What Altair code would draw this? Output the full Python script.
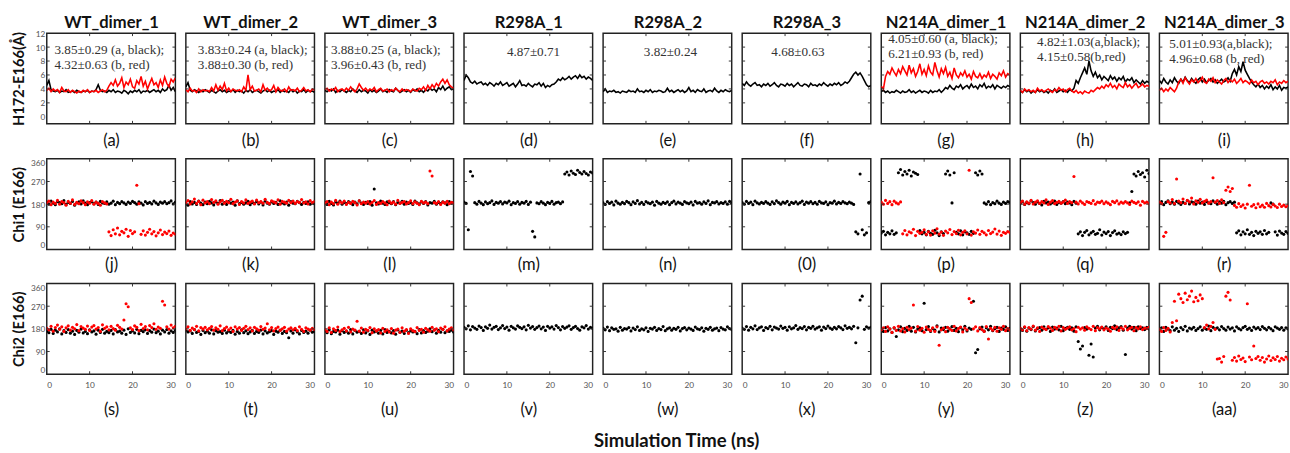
import altair as alt
import pandas as pd

STEP_NS = 0.5
X_DOMAIN = [0, 30]
X_TICKS = [0, 10, 20, 30]
TITLES = ["WT_dimer_1", "WT_dimer_2", "WT_dimer_3", "R298A_1", "R298A_2", "R298A_3",
          "N214A_dimer_1", "N214A_dimer_2", "N214A_dimer_3"]
LETTERS = [["(a)", "(b)", "(c)", "(d)", "(e)", "(f)", "(g)", "(h)", "(i)"],
           ["(j)", "(k)", "(l)", "(m)", "(n)", "(0)", "(p)", "(q)", "(r)"],
           ["(s)", "(t)", "(u)", "(v)", "(w)", "(x)", "(y)", "(z)", "(aa)"]]
ROW_TITLES = ["H172-E166(Å)", "Chi1 (E166)", "Chi2 (E166)"]
Y_DOMAINS = [[-1, 12], [0, 360], [0, 360]]
Y_TICKS = [[0, 2, 4, 6, 8, 10, 12], [0, 90, 180, 270, 360], [0, 90, 180, 270, 360]]

ANNOT_TEXT = [["3.85±0.29 (a, black);", "4.32±0.63 (b, red)"],
              ["3.83±0.24 (a, black);", "3.88±0.30 (b, red)"],
              ["3.88±0.25 (a, black);", "3.96±0.43 (b, red)"],
              ["4.87±0.71"], ["3.82±0.24"], ["4.68±0.63"],
              ["4.05±0.60 (a, black);", "6.21±0.93 (b, red)"],
              ["4.82±1.03(a,black);", "4.15±0.58(b,red)"],
              ["5.01±0.93(a,black);", "4.96±0.68 (b, red)"]]
ANNOT_T = [1.8, 2.8, 1.4, 10.0, 9.5, 6.8, 1.6, 3.9, 2.3]
ANNOT_V = [[9.55, 7.45], [9.55, 7.45], [9.55, 7.45], [9.3], [9.3], [9.3],
           [11.1, 9.0], [10.7, 8.6], [10.4, 8.3]]

COLORS = {"black": "#000000", "red": "#ff0000"}

# ---------------- H172-E166 distance (Å), sampled every 0.5 ns ----------------
dist_a_blk = [4.5,5.2,3.9,3.7,3.6,3.8,3.5,3.7,3.6,3.9,
              3.5,3.6,3.7,3.5,3.8,3.6,3.5,3.7,3.6,3.8,
              3.5,3.7,3.6,3.9,4.6,3.8,3.6,3.7,3.5,3.8,
              3.6,3.9,3.5,3.7,3.6,3.4,3.8,3.6,3.3,3.7,
              3.5,3.8,3.6,3.9,3.4,3.7,3.6,3.8,3.5,3.7,
              3.9,3.6,3.8,3.5,4.0,3.7,3.9,4.5,3.8,4.2,
              3.6]
dist_a_red = [3.8,4.1,3.6,4.0,3.7,3.9,3.5,4.2,3.7,3.6,
              3.9,3.5,3.8,3.6,3.4,3.7,3.5,3.8,3.6,3.9,
              3.5,3.7,3.6,3.8,3.5,3.7,3.9,3.6,3.8,4.4,
              4.9,4.5,5.3,4.4,4.8,5.6,4.2,5.0,4.6,5.4,
              4.3,4.1,5.2,4.7,5.8,4.4,5.1,4.0,4.8,5.5,
              4.6,4.9,4.2,5.3,4.5,5.7,4.8,4.3,5.4,5.0,
              5.6]
dist_b_blk = [4.3,4.9,3.8,3.6,3.9,3.7,3.5,3.8,3.6,3.9,
              3.7,3.5,3.8,3.6,3.4,3.7,3.9,3.6,3.8,3.5,
              3.7,3.6,3.9,3.5,3.8,3.6,3.7,3.4,3.8,3.6,
              3.9,3.5,3.7,3.8,3.6,3.4,3.7,3.9,3.6,3.8,
              3.5,3.7,3.6,3.9,3.5,3.8,3.6,3.7,3.5,3.9,
              3.6,3.8,3.4,3.7,3.6,3.9,3.5,3.8,3.6,3.7,
              3.5]
dist_b_red = [3.9,3.6,4.1,3.7,3.8,3.5,4.0,3.6,3.9,3.7,
              3.8,3.6,4.2,3.7,4.6,3.8,4.4,3.9,4.8,3.7,
              4.1,3.6,4.0,3.8,3.7,3.9,3.6,4.3,3.8,6.0,
              3.9,4.4,3.7,3.8,4.0,3.6,4.6,3.8,4.1,3.7,
              3.9,4.5,3.6,4.2,3.8,3.7,4.0,3.6,4.3,3.8,
              3.9,3.7,4.1,3.6,3.8,4.2,3.7,3.9,3.6,4.0,
              3.8]
dist_c_blk = [3.8,3.6,3.9,3.7,4.0,3.5,3.8,3.6,3.9,3.7,
              3.5,3.8,3.6,4.0,3.7,3.5,3.9,3.6,3.8,3.7,
              3.4,3.9,3.6,3.8,3.5,3.7,4.0,3.6,3.8,3.5,
              3.9,3.7,3.6,4.1,3.8,3.5,3.7,3.9,3.6,3.8,
              3.5,3.9,3.7,4.0,3.6,3.8,3.5,3.9,3.7,4.1,
              3.8,4.0,3.6,4.2,3.9,4.4,3.8,4.1,4.3,3.9,
              4.0]
dist_c_red = [3.9,4.1,3.7,4.0,3.8,4.2,3.6,3.9,4.0,3.7,
              4.1,3.8,4.3,3.9,3.6,4.0,4.7,4.2,3.8,4.1,
              3.7,4.0,3.8,4.2,3.6,3.9,4.1,3.7,3.8,4.0,
              3.6,3.9,3.7,4.1,3.8,3.6,4.0,3.7,3.9,3.8,
              3.6,4.0,3.8,3.7,4.1,3.9,4.3,3.8,4.5,4.0,
              4.6,4.2,4.8,4.4,5.0,5.4,4.8,5.3,4.6,4.3,
              4.1]
dist_d_blk = [5.2,6.0,5.6,5.0,4.8,5.1,4.7,4.9,5.0,4.6,
              4.8,4.5,4.9,4.7,4.4,4.8,4.6,5.0,4.5,4.7,
              4.9,4.4,4.6,4.8,4.3,4.7,5.2,4.5,4.6,4.4,
              4.8,4.5,4.3,4.7,4.6,4.9,4.4,4.8,4.2,4.5,
              4.3,4.6,4.7,5.0,5.4,5.2,5.6,5.3,5.5,5.8,
              5.4,5.7,5.9,5.5,6.0,5.6,5.8,5.4,5.7,5.5,
              5.2]
dist_e_blk = [3.6,4.0,3.5,3.7,3.6,3.8,3.5,3.6,3.4,3.7,
              3.6,3.5,3.8,3.6,3.7,3.5,4.0,3.6,3.7,3.5,
              3.8,3.6,3.9,3.5,3.7,3.6,3.8,3.7,3.5,3.6,
              4.1,3.6,3.8,3.5,3.7,3.9,3.6,3.8,3.5,3.7,
              4.2,3.6,3.8,3.5,3.9,3.7,3.6,4.0,3.5,3.7,
              3.8,3.6,4.1,3.7,3.5,3.8,3.6,3.9,3.7,3.6,
              3.8]
dist_f_blk = [4.8,4.5,5.0,4.6,4.4,4.7,4.9,4.5,4.6,4.3,
              4.7,4.5,4.8,4.4,4.6,4.9,4.5,4.3,4.7,4.6,
              4.4,4.8,4.5,4.7,4.3,4.6,4.9,4.5,4.4,4.7,
              4.6,4.3,4.8,4.5,4.6,4.4,4.7,4.5,4.9,4.6,
              4.4,4.7,4.5,4.8,4.6,4.9,4.5,4.7,5.0,4.8,
              5.1,5.6,6.1,6.4,6.0,6.3,5.8,5.2,4.6,4.3,
              4.5]
dist_g_blk = [3.6,3.8,3.5,3.7,3.4,3.6,3.5,3.8,3.6,3.4,
              3.7,3.5,3.6,3.9,3.5,3.7,3.4,3.6,3.8,3.5,
              3.7,3.6,3.4,3.8,3.5,3.7,3.6,3.9,3.5,3.8,
              4.2,4.0,4.5,4.1,3.9,4.4,4.2,4.6,4.0,4.3,
              4.5,4.1,4.7,4.2,4.4,4.0,4.6,4.3,4.8,4.1,
              4.4,4.2,4.6,4.0,4.5,4.3,4.1,4.4,4.2,4.5,
              4.3]
dist_g_red = [4.4,4.0,5.8,6.5,6.1,7.0,6.4,5.9,6.8,6.2,
              7.2,6.6,6.0,7.4,6.3,6.9,5.8,6.5,7.6,6.1,
              6.8,5.9,7.3,6.4,6.0,7.8,6.6,5.7,6.9,6.2,
              7.1,5.8,6.4,5.5,7.0,6.0,5.6,6.3,5.9,6.6,
              5.7,6.1,5.4,6.5,5.8,5.6,6.2,5.5,6.0,5.7,
              6.4,5.5,6.1,5.8,5.4,6.3,5.9,6.6,5.7,6.2,
              6.0]
dist_h_blk = [3.7,3.5,3.9,3.6,3.8,3.4,3.7,3.5,3.9,3.6,
              3.8,3.5,3.7,3.4,3.8,3.6,4.0,3.5,3.7,3.9,
              3.6,3.8,3.5,3.9,3.7,4.1,5.2,4.8,5.6,6.3,
              7.0,6.1,8.0,6.6,5.8,6.4,5.6,6.0,5.3,5.8,
              5.5,5.2,5.9,5.4,5.7,5.1,5.6,5.3,5.8,5.0,
              5.4,5.2,5.6,4.9,5.3,5.0,4.7,5.2,4.8,5.1,
              4.9]
dist_h_red = [3.8,3.5,4.0,3.7,3.9,3.6,3.8,3.5,4.1,3.7,
              3.9,3.6,3.8,4.0,3.7,3.5,3.9,3.7,4.2,3.8,
              4.0,3.6,3.9,4.1,3.7,3.5,3.8,3.4,3.6,3.3,
              3.7,3.5,3.4,3.8,3.6,3.9,4.2,4.0,4.4,4.1,
              4.6,4.3,4.8,4.2,4.5,4.0,4.7,4.4,4.2,4.9,
              4.3,4.6,4.1,4.5,4.8,4.2,4.4,4.7,4.3,4.5,
              4.4]
dist_i_blk = [5.2,4.8,5.5,5.0,4.7,5.3,4.9,5.6,5.1,4.8,
              5.4,5.0,5.7,5.2,4.9,5.5,5.1,4.8,5.3,5.6,
              5.0,5.4,4.9,5.2,5.5,5.0,5.3,4.8,5.1,5.4,
              5.0,5.2,5.6,5.1,6.2,6.8,6.0,7.2,6.5,7.9,
              6.7,6.1,5.5,5.0,4.6,4.3,4.7,4.2,4.5,4.0,
              4.4,4.1,4.6,3.9,4.3,4.0,4.5,3.8,4.2,4.1,
              4.3]
dist_i_red = [3.8,4.1,3.6,4.0,3.7,4.2,3.9,3.6,4.1,5.0,
              5.4,4.8,5.6,5.1,4.7,5.3,5.0,5.5,4.9,5.2,
              5.7,5.0,4.8,5.4,5.1,5.6,4.9,5.3,5.0,4.7,
              5.2,5.5,4.9,5.3,5.0,5.4,4.8,5.1,5.5,4.9,
              5.2,5.0,4.7,5.3,4.9,5.1,4.6,5.0,5.2,4.8,
              5.0,4.7,5.1,4.9,5.3,4.6,5.0,4.8,5.2,4.9,
              5.1]

# ---------------- Chi1 (E166), degrees ----------------
chi1_j_blk = [188,180,192,184,178,190,186,182,194,179,
              187,183,191,176,185,189,181,193,184,178,
              186,190,182,188,179,191,185,183,189,180,
              184,192,178,187,182,190,185,179,188,183,
              191,186,180,189,184,177,190,183,187,181,
              192,185,179,188,184,190,182,186,193,181,
              188]
chi1_j_red = [185,192,178,188,183,195,180,190,186,176,
              191,184,197,179,187,182,193,186,178,189,
              184,194,180,188,183,176,190,185,181,70,
              55,78,62,85,58,72,66,80,52,75,
              63,70,255,182,60,74,57,68,80,62,
              71,54,66,77,59,69,63,73,56,65,
              61]
chi1_k_blk = [183,176,190,181,187,179,192,184,178,188,
              182,191,185,177,189,183,194,180,186,179,
              190,184,188,176,193,182,187,180,185,191,
              178,186,183,190,181,188,177,192,184,180,
              189,183,187,179,193,185,181,188,176,190,
              184,182,191,186,179,187,183,189,180,185,
              182]
chi1_k_red = [186,194,181,189,200,183,191,178,196,185,
              190,182,198,187,193,180,189,195,184,191,
              186,199,182,188,193,179,190,185,197,183,
              188,192,181,196,186,190,184,199,187,182,
              193,189,185,197,180,191,188,184,195,186,
              192,183,190,187,198,185,189,181,194,186,
              190]
chi1_l_blk = [186,179,191,183,177,189,184,192,180,187,
              182,190,185,178,188,181,193,184,179,187,
              183,190,176,240,185,181,192,184,179,189,
              186,182,190,178,187,184,191,180,188,183,
              186,179,192,185,181,189,183,190,177,186,
              184,191,180,187,182,189,185,178,190,184,
              187]
chi1_l_red = [184,190,178,188,182,195,180,189,185,192,
              179,187,183,191,186,177,193,182,188,184,
              190,181,187,194,179,186,183,190,185,178,
              192,184,188,180,195,183,187,190,181,186,
              193,182,189,184,178,191,185,188,182,312,
              292,186,183,190,179,188,184,191,182,187,
              185]
chi1_m_blk = [188,183,78,310,292,186,180,191,184,178,
              189,182,186,193,179,187,184,190,181,188,
              185,192,178,186,183,190,180,187,184,191,
              179,188,72,50,185,182,190,184,178,187,
              183,191,180,186,188,182,189,300,308,296,
              312,303,298,315,306,300,310,302,296,308,
              304]
chi1_n_blk = [185,179,190,183,188,177,192,184,180,187,
              182,191,186,178,189,183,194,181,187,179,
              190,185,182,188,176,191,184,180,187,183,
              189,178,186,192,181,188,184,179,190,185,
              182,188,177,191,184,186,180,189,183,193,
              178,187,185,190,181,186,183,189,180,191,
              184]
chi1_o_blk = [186,180,191,183,188,178,192,185,181,187,
              183,190,184,179,189,182,193,186,180,188,
              184,191,178,187,183,189,181,186,192,179,
              188,184,190,182,187,180,191,185,183,189,
              178,186,184,192,181,187,183,190,185,182,
              188,184,179,70,62,300,78,58,66,186,
              190]
chi1_p_blk = [65,72,58,68,62,74,60,66,305,318,
              296,310,300,315,292,308,303,298,75,62,
              68,58,72,64,60,76,66,55,70,63,
              300,312,296,185,305,68,62,74,58,70,
              66,60,72,64,305,296,312,300,185,180,
              190,178,186,182,192,184,179,188,183,190,
              186]
chi1_p_red = [188,180,195,183,190,178,192,185,181,189,
              62,75,58,70,66,80,55,72,64,68,
              78,60,70,57,74,65,82,61,69,56,
              73,66,79,59,71,63,76,58,68,74,
              62,315,57,70,65,77,60,72,66,58,
              75,63,69,81,61,73,56,68,64,71,
              67]
chi1_q_blk = [184,190,179,187,182,193,186,180,189,183,
              177,191,185,188,181,186,192,179,187,184,
              190,182,188,185,178,191,184,62,70,55,
              68,75,58,66,72,60,64,78,57,69,
              63,71,55,67,74,61,65,59,70,63,
              68,185,230,300,292,310,298,305,288,315,
              302]
chi1_q_red = [186,192,180,189,184,195,181,188,193,183,
              190,185,197,179,188,194,182,187,191,184,
              189,196,183,190,186,290,188,181,192,185,
              179,190,187,183,194,180,188,186,192,182,
              189,184,178,191,186,193,181,188,184,190,
              185,179,192,187,183,189,176,191,185,188,
              182]
chi1_r_blk = [184,190,178,187,193,182,188,180,191,185,
              179,187,183,194,181,189,186,180,192,184,
              188,179,190,185,182,193,187,180,189,184,
              191,178,186,190,183,188,66,74,58,70,
              62,78,60,68,55,72,64,70,60,75,
              62,68,185,180,70,57,73,65,60,71,
              64]
chi1_r_red = [188,182,52,68,190,185,198,183,280,192,
              186,200,183,195,189,204,181,193,187,199,
              185,191,196,184,190,285,188,194,183,197,
              186,235,248,230,242,175,168,182,171,177,
              165,180,255,172,178,166,181,170,176,168,
              183,174,169,179,173,167,180,171,176,170,
              175]

# ---------------- Chi2 (E166), degrees ----------------
chi2_s_blk = [170,165,178,162,175,168,180,160,173,166,
              177,163,171,158,174,167,179,164,170,161,
              176,168,172,159,175,166,178,163,170,165,
              174,160,177,168,171,163,175,158,180,166,
              172,164,178,161,174,169,176,162,173,167,
              179,165,171,160,175,168,177,163,172,166,
              174]
chi2_s_red = [182,176,190,171,185,195,178,188,170,184,
              192,175,186,180,197,173,189,183,178,191,
              174,187,193,179,185,170,196,182,188,176,
              190,181,175,194,186,179,215,280,268,184,
              177,192,186,173,198,181,189,176,193,185,
              200,178,187,182,290,275,188,179,195,184,
              190]
chi2_t_blk = [175,168,172,162,177,166,170,158,174,165,
              171,163,176,160,173,167,169,162,175,164,
              171,166,174,159,170,163,176,165,172,161,
              168,174,162,170,166,175,160,172,164,169,
              173,158,171,167,175,162,170,165,145,172,
              163,176,168,160,174,166,171,163,175,167,
              170]
chi2_t_red = [180,188,174,183,177,190,172,185,179,186,
              176,182,189,175,184,178,192,173,181,187,
              176,183,170,188,179,185,174,182,190,177,
              184,172,186,180,175,189,178,183,200,176,
              185,172,181,187,174,180,186,171,179,184,
              176,182,173,188,178,170,184,179,175,182,
              177]
chi2_u_blk = [172,165,176,161,170,168,175,159,173,166,
              171,163,177,160,174,167,170,162,176,164,
              172,158,175,168,171,163,174,160,177,166,
              170,164,173,159,176,167,171,162,175,165,
              172,168,170,161,177,164,173,166,171,180,
              169,176,163,174,167,178,165,172,170,175,
              168]
chi2_u_red = [178,170,184,166,180,174,187,169,176,182,
              172,186,168,179,175,210,171,183,167,178,
              174,185,165,180,172,177,164,182,170,176,
              168,181,163,175,179,166,184,171,177,162,
              180,173,169,185,174,178,167,182,176,171,
              186,175,180,169,183,177,188,172,179,184,
              176]
chi2_v_blk = [186,180,192,176,189,183,178,191,185,174,
              188,182,195,179,186,190,177,184,193,181,
              187,175,190,184,179,192,186,181,188,176,
              194,183,189,178,185,191,180,187,174,190,
              183,188,179,193,185,176,189,182,187,192,
              178,185,190,181,175,188,184,193,179,186,
              182]
chi2_w_blk = [182,176,187,173,184,178,180,171,186,175,
              181,179,185,172,183,177,188,174,180,176,
              184,170,182,179,186,174,181,177,189,173,
              180,184,175,182,178,186,172,181,185,176,
              183,179,174,187,180,177,184,171,182,178,
              186,175,180,183,173,185,179,176,188,181,
              177]
chi2_x_blk = [183,178,189,175,186,180,192,177,184,188,
              174,185,181,190,176,187,183,179,191,182,
              186,175,188,180,184,193,178,185,181,189,
              176,186,182,190,179,184,188,175,187,181,
              191,183,178,186,180,189,184,177,192,182,
              186,180,190,125,184,295,310,178,188,183,
              186]
chi2_y_blk = [178,170,185,172,180,166,183,150,176,188,
              169,182,174,190,171,186,168,179,184,173,
              282,177,189,170,181,175,192,168,183,177,
              186,171,180,189,174,182,169,185,176,190,
              172,183,178,290,85,98,180,187,171,184,
              176,190,173,181,186,170,183,178,188,174,
              182]
chi2_y_red = [176,184,170,188,179,166,185,174,190,172,
              181,168,186,177,183,275,171,189,175,182,
              167,187,178,173,184,170,188,115,176,183,
              169,186,179,174,190,172,181,187,168,183,
              176,300,285,180,188,172,185,177,170,189,
              140,182,175,186,171,184,178,190,173,181,
              176]
chi2_z_blk = [180,174,186,171,183,177,189,172,181,185,
              175,188,178,184,170,187,179,183,176,190,
              173,182,186,178,184,171,188,130,100,112,
              185,179,75,120,68,183,190,176,185,180,
              188,174,186,181,192,177,184,189,175,78,
              183,190,179,186,173,188,181,184,177,186,
              180]
chi2_z_red = [182,176,188,173,185,179,191,175,184,170,
              187,181,177,189,183,174,186,180,190,172,
              185,178,183,188,176,181,169,186,179,184,
              175,188,182,177,190,173,185,180,187,176,
              183,179,171,186,181,188,174,184,179,190,
              176,182,186,173,185,180,188,177,183,181,
              186]
chi2_aa_blk = [176,184,170,186,179,173,188,175,182,170,
               185,177,190,172,183,179,186,174,181,188,
               175,183,178,191,173,186,180,184,176,189,
               181,175,187,179,184,172,188,181,176,185,
               190,178,183,174,187,180,185,177,189,182,
               176,186,180,173,188,183,178,185,175,184,
               180]
chi2_aa_red = [178,170,185,174,182,168,205,290,212,318,
               300,285,322,296,310,330,288,305,292,315,
               300,185,195,180,190,205,178,60,62,48,
               70,310,325,295,55,66,52,72,58,64,
               50,280,68,57,112,62,70,55,66,48,
               60,72,54,65,58,70,52,63,57,68,
               60]

SERIES = [
    [[("black", dist_a_blk), ("red", dist_a_red)], [("black", dist_b_blk), ("red", dist_b_red)],
     [("black", dist_c_blk), ("red", dist_c_red)], [("black", dist_d_blk)], [("black", dist_e_blk)],
     [("black", dist_f_blk)], [("black", dist_g_blk), ("red", dist_g_red)],
     [("black", dist_h_blk), ("red", dist_h_red)], [("black", dist_i_blk), ("red", dist_i_red)]],
    [[("black", chi1_j_blk), ("red", chi1_j_red)], [("black", chi1_k_blk), ("red", chi1_k_red)],
     [("black", chi1_l_blk), ("red", chi1_l_red)], [("black", chi1_m_blk)], [("black", chi1_n_blk)],
     [("black", chi1_o_blk)], [("black", chi1_p_blk), ("red", chi1_p_red)],
     [("black", chi1_q_blk), ("red", chi1_q_red)], [("black", chi1_r_blk), ("red", chi1_r_red)]],
    [[("black", chi2_s_blk), ("red", chi2_s_red)], [("black", chi2_t_blk), ("red", chi2_t_red)],
     [("black", chi2_u_blk), ("red", chi2_u_red)], [("black", chi2_v_blk)], [("black", chi2_w_blk)],
     [("black", chi2_x_blk)], [("black", chi2_y_blk), ("red", chi2_y_red)],
     [("black", chi2_z_blk), ("red", chi2_z_red)], [("black", chi2_aa_blk), ("red", chi2_aa_red)]],
]

W, H = 132, 93
SANS = "Lato"
X_TITLE_PAD = [9, 8, 13.5]


def make_panel(r, c):
    xs = alt.Scale(domain=X_DOMAIN, nice=False, zero=False)
    ys = alt.Scale(domain=Y_DOMAINS[r], nice=False, zero=False)
    xkw = dict(title=LETTERS[r][c], titleFont=SANS, titleFontSize=17, titleFontWeight="normal",
               titleColor="#111", titlePadding=X_TITLE_PAD[r], ticks=False, domain=False,
               grid=False, values=X_TICKS, orient="bottom")
    if r == 2:
        x_axis = alt.Axis(labels=True, labelFlush=True, labelFont=SANS, labelFontSize=8.5,
                          labelColor="#555", labelPadding=6.5, **xkw)
    else:
        x_axis = alt.Axis(labels=False, minExtent=0, **xkw)
    if c == 0:
        y_axis = alt.Axis(title=ROW_TITLES[r], titleFont=SANS, titleFontSize=15,
                          titleFontWeight="bold", titleColor="#111", titlePadding=4.5,
                          values=Y_TICKS[r], ticks=False, domain=False, grid=False,
                          labelFont=SANS, labelFontSize=8.5, labelColor="#555",
                          labelPadding=2, labelFlush=(r > 0), minExtent=16, maxExtent=16)
    else:
        y_axis = None
    if r == 0:
        top_axis = alt.Axis(orient="top", title=TITLES[c], titleFont=SANS, titleFontSize=17,
                            titleFontWeight="bold", titleColor="#111", titleBaseline="alphabetic",
                            titlePadding=5.5, labels=False, ticks=False, domain=False,
                            grid=False, minExtent=0, values=X_TICKS)
    else:
        top_axis = None
    X_main = alt.X("t:Q", scale=xs, axis=x_axis)
    X_top = alt.X("t:Q", scale=xs, axis=top_axis)
    X_none = alt.X("t:Q", scale=xs, axis=None)
    Y = alt.Y("v:Q", scale=ys, axis=y_axis)

    layers = []
    for k, (color, vals) in enumerate(SERIES[r][c]):
        df = pd.DataFrame({"t": [i * STEP_NS for i in range(len(vals))], "v": vals})
        base = alt.Chart(df)
        if r == 0:
            mk = base.mark_line(color=COLORS[color], strokeWidth=1.6, clip=True)
        else:
            mk = base.mark_circle(color=COLORS[color], size=10, opacity=1, clip=True)
        layers.append(mk.encode(x=X_main if k == 0 else X_none, y=Y))

    # inward ticks on all four sides
    xt = pd.DataFrame({"t": X_TICKS[1:-1]})
    yt = pd.DataFrame({"v": Y_TICKS[r][1:-1]})
    tick = dict(color="#333", strokeWidth=1)
    layers.append(alt.Chart(xt).mark_rule(**tick).encode(x=X_top, y=alt.value(0), y2=alt.value(3)))
    layers.append(alt.Chart(xt).mark_rule(**tick).encode(x=X_none, y=alt.value(H - 3), y2=alt.value(H)))
    layers.append(alt.Chart(yt).mark_rule(**tick).encode(y=Y, x=alt.value(0), x2=alt.value(3)))
    layers.append(alt.Chart(yt).mark_rule(**tick).encode(y=Y, x=alt.value(W - 3), x2=alt.value(W)))

    if r == 0:
        ann = pd.DataFrame({"t": [ANNOT_T[c]] * len(ANNOT_TEXT[c]), "v": ANNOT_V[c],
                            "txt": ANNOT_TEXT[c]})
        layers.append(alt.Chart(ann).mark_text(align="left", baseline="middle",
                                               font="Liberation Serif", fontSize=13.5,
                                               color="#333").encode(x=X_none, y=Y, text="txt:N"))
    return alt.layer(*layers).resolve_axis(x="independent").properties(width=W, height=H)


cells = [make_panel(r, c) for r in range(3) for c in range(9)]

chart = alt.concat(*cells, columns=9, spacing={"row": 8, "column": 6.75}).properties(
    title=alt.TitleParams("Simulation Time (ns)", orient="bottom", anchor="middle",
                          font=SANS, fontSize=19, fontWeight="bold", color="#111",
                          offset=15, dx=27),
    padding={"left": 11, "top": 7, "right": 0, "bottom": 0},
    background="white",
).configure_view(stroke="#222", strokeWidth=1.5)

chart.save("out.html", embed_options={"renderer": "svg", "actions": False})
